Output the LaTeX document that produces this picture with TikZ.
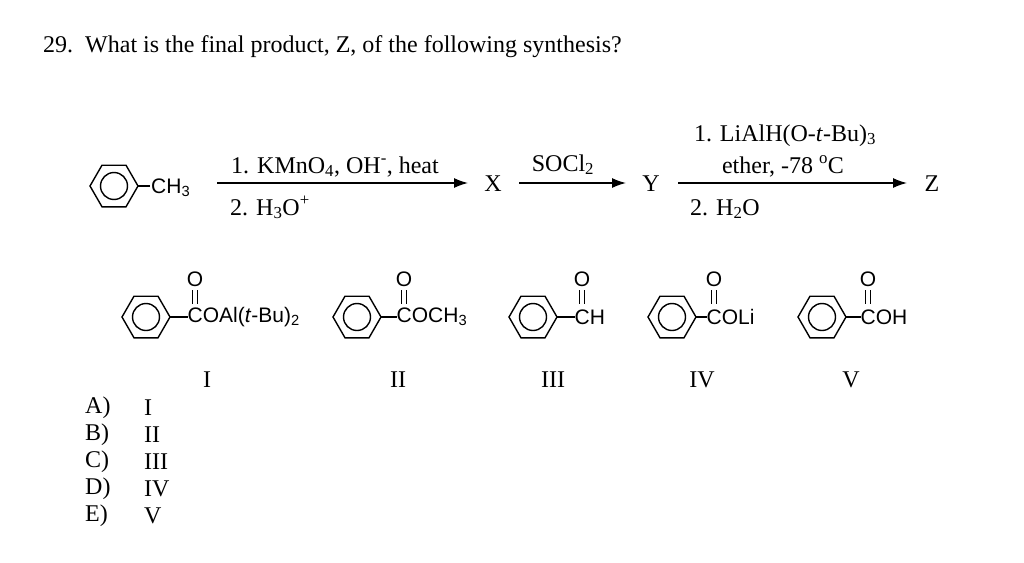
\documentclass[tikz,border=0pt]{standalone}
\usepackage{fontspec}
\setmainfont{Liberation Serif}
\newfontfamily\lab{Liberation Sans}
\usetikzlibrary{arrows.meta}
\newcommand\mybenz[2]{%
  \draw[bond] (#1+24,#2) -- (#1+12,#2-20.8) -- (#1-12,#2-20.8) -- (#1-24,#2) -- (#1-12,#2+20.8) -- (#1+12,#2+20.8) -- cycle;
  \draw[bond] (#1,#2) circle (13.5);}
\begin{document}
\begin{tikzpicture}[x=1pt,y=-1pt,
  bond/.style={line width=1.4pt},
  rxn/.style={line width=1.3pt,-{Latex[length=14pt,width=10pt]}},
  txt/.style={font=\fontsize{24}{26}\selectfont,inner sep=0},
  lbl/.style={font=\lab\fontsize{21}{23}\selectfont,inner sep=0}]
\useasboundingbox (0,0) rectangle (1024,562);
\node[txt,anchor=base west] (title) at (43,52) {29.\ \ What is the final product, Z, of the following synthesis?};
% toluene
\mybenz{114}{186}
\draw[bond] (138,186) -- (150,186);
\node[lbl,anchor=west] (ch3) at (151,188) {CH\textsubscript{3}};
\coordinate (a1s) at (217,183); \coordinate (a1e) at (468,183);
\draw[rxn] (a1s) -- (a1e);
\node[txt,anchor=base] (r1) at (335,173) {1. KMnO\textsubscript{4}, OH\textsuperscript{-}, heat};
\node[txt,anchor=base west] (r2) at (230,215) {2. H\textsubscript{3}O\textsuperscript{+}};
\node[txt] (X) at (493,184) {X};
\coordinate (a2s) at (519,183); \coordinate (a2e) at (626,183);
\draw[rxn] (a2s) -- (a2e);
\node[txt,anchor=base] (s) at (563,171) {SOCl\textsubscript{2}};
\node[txt] (Y) at (651,184) {Y};
\coordinate (a3s) at (678,183); \coordinate (a3e) at (907,183);
\draw[rxn] (a3s) -- (a3e);
\node[txt,anchor=base] (l1) at (785,141) {1. LiAlH(O-\textit{t}-Bu)\textsubscript{3}};
\node[txt,anchor=base] (l2) at (783,173) {ether, -78 \textsuperscript{o}C};
\node[txt,anchor=base west] (l3) at (690,215) {2. H\textsubscript{2}O};
\node[txt] (Z) at (932,184) {Z};
% answer structures
\foreach \cx/\c/\t/\n in {146/195/{COAl(\textit{t}-Bu)\textsubscript{2}}/s1, 357/404/{COCH\textsubscript{3}}/s2, 533/582/{CH}/s3, 672/714/{COLi}/s4, 822/868/{COH}/s5}{
  \mybenz{\cx}{317}
  \draw[bond] (\cx+24,317) -- (\c-7,317);
  \node[lbl,anchor=west] (\n) at (\c-7.5,317) {\t};
  \node[lbl] (\n o) at (\c,279) {O};
  \draw[bond] (\c-2.5,290) -- (\c-2.5,304);
  \draw[bond] (\c+2.5,290) -- (\c+2.5,304);
}
\foreach \x/\r in {207/I,398/II,553/III,702/IV,851/V}
  \node[txt] (rn\r) at (\x,380) {\r};
\foreach \y/\a/\r in {408/A/I,435/B/II,462/C/III,489/D/IV,516/E/V}{
  \node[txt,anchor=west] (ans\a) at (85,\y) {\a)};
  \node[txt,anchor=west] (ansr\a) at (144,\y) {\r};
}
\end{tikzpicture}
\end{document}
